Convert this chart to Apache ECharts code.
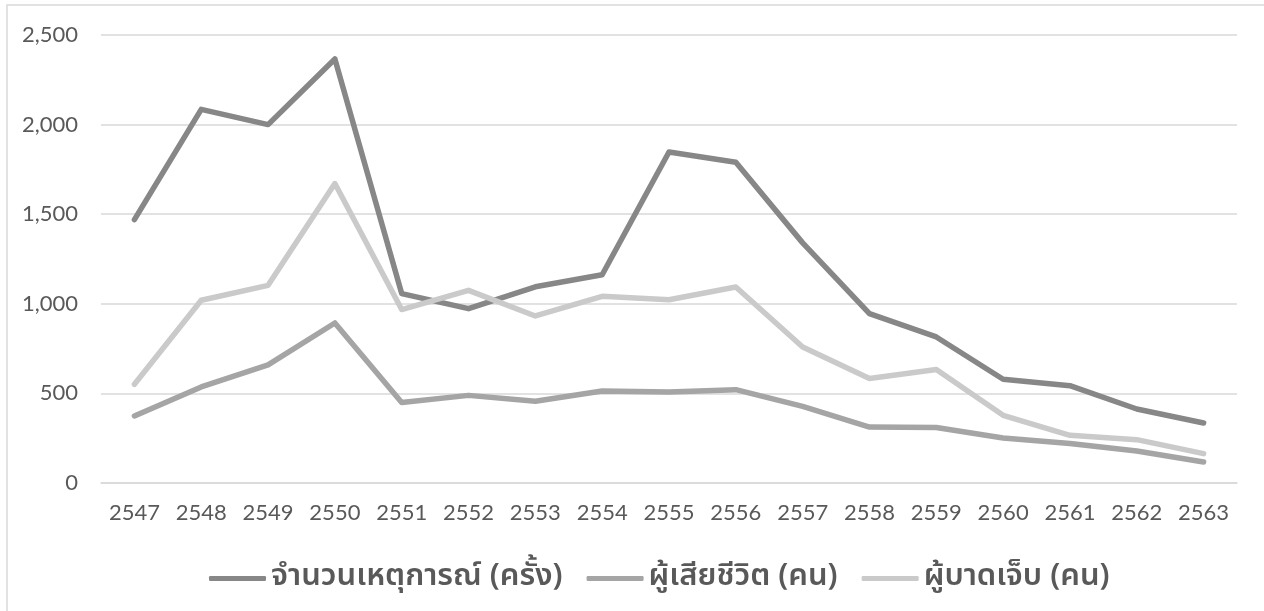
<!DOCTYPE html>
<html>
<head>
<meta charset="utf-8">
<script src="https://cdn.jsdelivr.net/npm/echarts@6/dist/echarts.min.js"></script>
<style>
  html, body { margin: 0; padding: 0; background: #fff; }
  #chart { width: 1264px; height: 611px; }
</style>
</head>
<body>
<div id="chart"></div>
<script>
const years = ["2547", "2548", "2549", "2550", "2551", "2552", "2553", "2554", "2555",
  "2556", "2557", "2558", "2559", "2560", "2561", "2562", "2563"];

const incidents = [1470, 2085, 2000, 2366, 1057, 973, 1095, 1162, 1847, 1790, 1340, 945, 815, 579, 543, 413, 335];
const deaths = [374, 536, 659, 893, 449, 489, 456, 513, 508, 521, 428, 312, 310, 251, 220, 179, 117];
const injured = [551, 1020, 1103, 1671, 968, 1075, 932, 1042, 1023, 1094, 759, 583, 633, 378, 266, 242, 164];

const names = ["จำนวนเหตุการณ์ (ครั้ง)", "ผู้เสียชีวิต (คน)", "ผู้บาดเจ็บ (คน)"];
const colors = ["#878787", "#a5a5a5", "#cacaca"];

const labelFont = "Lato, 'Liberation Sans', sans-serif";
const thaiFont = "'Noto Sans Thai', 'Noto Sans', sans-serif";

function mkSeries(name, data, color) {
  return {
    name: name,
    type: "line",
    data: data,
    symbol: "none",
    color: color,
    lineStyle: { width: 5.5, color: color, cap: "round", join: "round" },
    emphasis: { disabled: true },
  };
}

const myChart = echarts.init(document.getElementById("chart"));
const option = {
  animation: false,
  backgroundColor: "#fff",
  graphic: [
    {
      type: "rect",
      shape: { x: 7, y: 5, width: 1280, height: 640 },
      style: { fill: null, stroke: "#d9d9d9", lineWidth: 1.5 },
      silent: true,
    },
  ],
  grid: { left: 101, right: 27, top: 35, bottom: 128 },
  legend: {
    left: 204,
    top: 558,
    icon: "roundRect",
    itemWidth: 57,
    itemHeight: 5,
    itemGap: 24,
    data: names,
    textStyle: { fontFamily: thaiFont, fontSize: 31, fontWeight: 600, color: "#595959" },
  },
  xAxis: {
    type: "category",
    data: years,
    boundaryGap: true,
    axisLine: { show: true, lineStyle: { color: "#d9d9d9", width: 1.5 } },
    axisTick: { show: false },
    axisLabel: { fontFamily: labelFont, fontSize: 22, color: "#595959", margin: 19 },
  },
  yAxis: {
    type: "value",
    min: 0,
    max: 2500,
    interval: 500,
    axisLine: { show: false },
    axisTick: { show: false },
    splitLine: { lineStyle: { color: "#d9d9d9", width: 1.5 } },
    axisLabel: {
      fontFamily: labelFont,
      fontSize: 22,
      color: "#595959",
      margin: 23,
      formatter: function (v) {
        return v.toLocaleString("en-US");
      },
    },
  },
  series: [
    mkSeries(names[0], incidents, colors[0]),
    mkSeries(names[1], deaths, colors[1]),
    mkSeries(names[2], injured, colors[2]),
  ],
};
myChart.setOption(option);
</script>
</body>
</html>
